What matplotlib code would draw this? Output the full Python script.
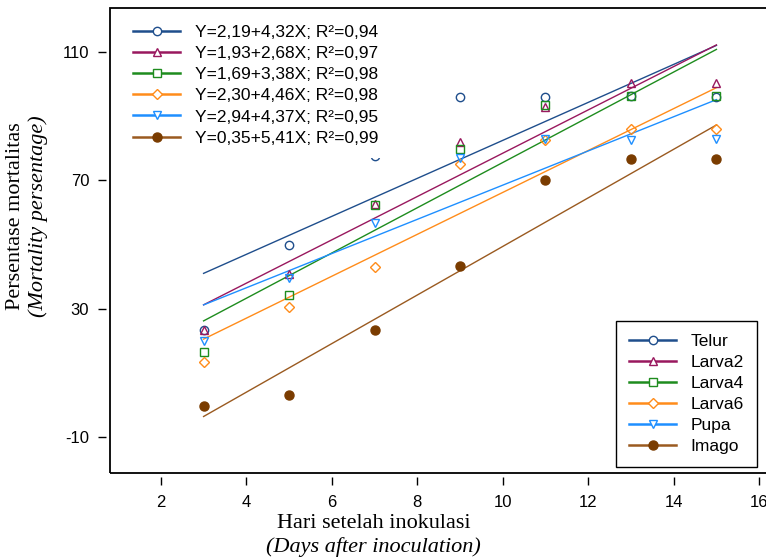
import matplotlib
matplotlib.use('Agg')
import matplotlib.pyplot as plt
from matplotlib.lines import Line2D
from matplotlib.patches import Rectangle
import numpy as np

# observed mortality (%) per stage
days = [3, 5, 7, 9, 11, 13, 15]
telur = [23.3, 50.0, 77.5, 96.0, 96.0, 96.2, 96.0]
larva2 = [23.3, 40.8, 62.5, 82.0, 93.0, 100.3, 100.3]
larva4 = [16.6, 34.3, 62.2, 79.7, 93.4, 96.4, 96.2]
larva6 = [13.5, 30.6, 42.9, 75.2, 82.6, 86.0, 86.1]
pupa = [20.0, 39.6, 56.8, 77.0, 82.8, 82.7, 82.8]
imago = [-0.3, 3.1, 23.3, 43.2, 70.2, 76.8, 76.8]

# trend lines as drawn in the figure (intercept, slope)
trend_b = [23.25, 10.95, 5.05, 0.93, 15.2, -26.3]
trend_m = [5.92, 6.75, 7.05, 6.53, 5.33, 7.57]

names = ['Telur', 'Larva2', 'Larva4', 'Larva6', 'Pupa', 'Imago']
equations = ['Y=2,19+4,32X; R²=0,94', 'Y=1,93+2,68X; R²=0,97',
             'Y=1,69+3,38X; R²=0,98', 'Y=2,30+4,46X; R²=0,98',
             'Y=2,94+4,37X; R²=0,95', 'Y=0,35+5,41X; R²=0,99']
series = [telur, larva2, larva4, larva6, pupa, imago]

line_colors = ['#1f4e8c', '#99185e', '#1e8c1e', '#ff8c1a', '#1e8fff', '#9a5a20']
mark_colors = ['#1f4e8c', '#99185e', '#1e8c1e', '#ff8c1a', '#1e8fff', '#7a3c00']
markers = ['o', '^', 's', 'D', 'v', 'o']
msizes = [6, 6, 6, 5, 6, 6.5]
filled = [False, False, False, False, False, True]

plt.rcParams['font.family'] = ['Liberation Sans', 'DejaVu Sans']
plt.rcParams['axes.unicode_minus'] = False

fig = plt.figure(figsize=(7.66, 5.6), dpi=100)
ax = fig.add_axes([110/766, 87/560, 662/766, 465/560])

xs = np.array([days[0], days[-1]])
for i in range(6):
    ax.plot(xs, trend_b[i] + trend_m[i]*xs, color=line_colors[i], lw=1.0)
for i in range(6):
    ax.plot(days, series[i], linestyle='none', marker=markers[i], ms=msizes[i],
            mec=mark_colors[i], mfc=mark_colors[i] if filled[i] else 'none', mew=1.0)

ax.set_xlim(0.81, 16.3)
ax.set_ylim(-21.2, 123.7)
ax.set_xticks([2, 4, 6, 8, 10, 12, 14, 16])
ax.set_yticks([-10, 30, 70, 110])

# ticks sit a little away from the frame
for s in ['left', 'bottom']:
    ax.spines[s].set_position(('outward', 3))
for s in ax.spines:
    ax.spines[s].set_visible(False)
ax.add_patch(Rectangle((0, 0), 1, 1, transform=ax.transAxes, fill=False,
                       lw=1.3, ec='black', clip_on=False, zorder=5))
ax.tick_params(axis='both', direction='out', length=6, width=1.0, labelsize=12)
ax.tick_params(axis='x', pad=7)
ax.tick_params(axis='y', pad=6)

handles = []
for i in range(6):
    handles.append(Line2D([], [], color=line_colors[i], lw=1.8, marker=markers[i],
                          ms=msizes[i], mec=mark_colors[i],
                          mfc=mark_colors[i] if filled[i] else 'white', mew=1.0))

leg1 = ax.legend(handles, equations, loc='upper left', bbox_to_anchor=(121/766, 1-13/560),
                 bbox_transform=fig.transFigure, frameon=True, fancybox=False,
                 edgecolor='none', facecolor='white', framealpha=1, fontsize=12.5,
                 handlelength=2.7, handletextpad=0.85, labelspacing=0.34, borderaxespad=0,
                 borderpad=0.7)
leg1.set_zorder(6)
ax.add_artist(leg1)

leg2 = ax.legend(handles, names, loc='lower right', bbox_to_anchor=(757/766, 1-467/560),
                 bbox_transform=fig.transFigure, frameon=True, fancybox=False,
                 edgecolor='black', facecolor='white', framealpha=1, fontsize=12.5,
                 handlelength=2.7, handletextpad=0.85, labelspacing=0.34, borderaxespad=0,
                 borderpad=0.75)
leg2.get_frame().set_linewidth(1.0)
leg2.set_zorder(6)

serif = ['Liberation Serif', 'DejaVu Serif']
fig.text(0.4875, 1-523/560, 'Hari setelah inokulasi', ha='center', va='center',
         fontsize=16, family=serif)
fig.text(0.4875, 1-547/560, '(Days after inoculation)', ha='center', va='center',
         fontsize=16, family=serif, style='italic')
fig.text(16/766, 1-216/560, 'Persentase mortalitas', ha='center', va='center',
         fontsize=16, family=serif, rotation=90)
fig.text(38/766, 1-216/560, '(Mortality persentage)', ha='center', va='center',
         fontsize=16, family=serif, style='italic', rotation=90)

fig.savefig('out.png', dpi=100)
